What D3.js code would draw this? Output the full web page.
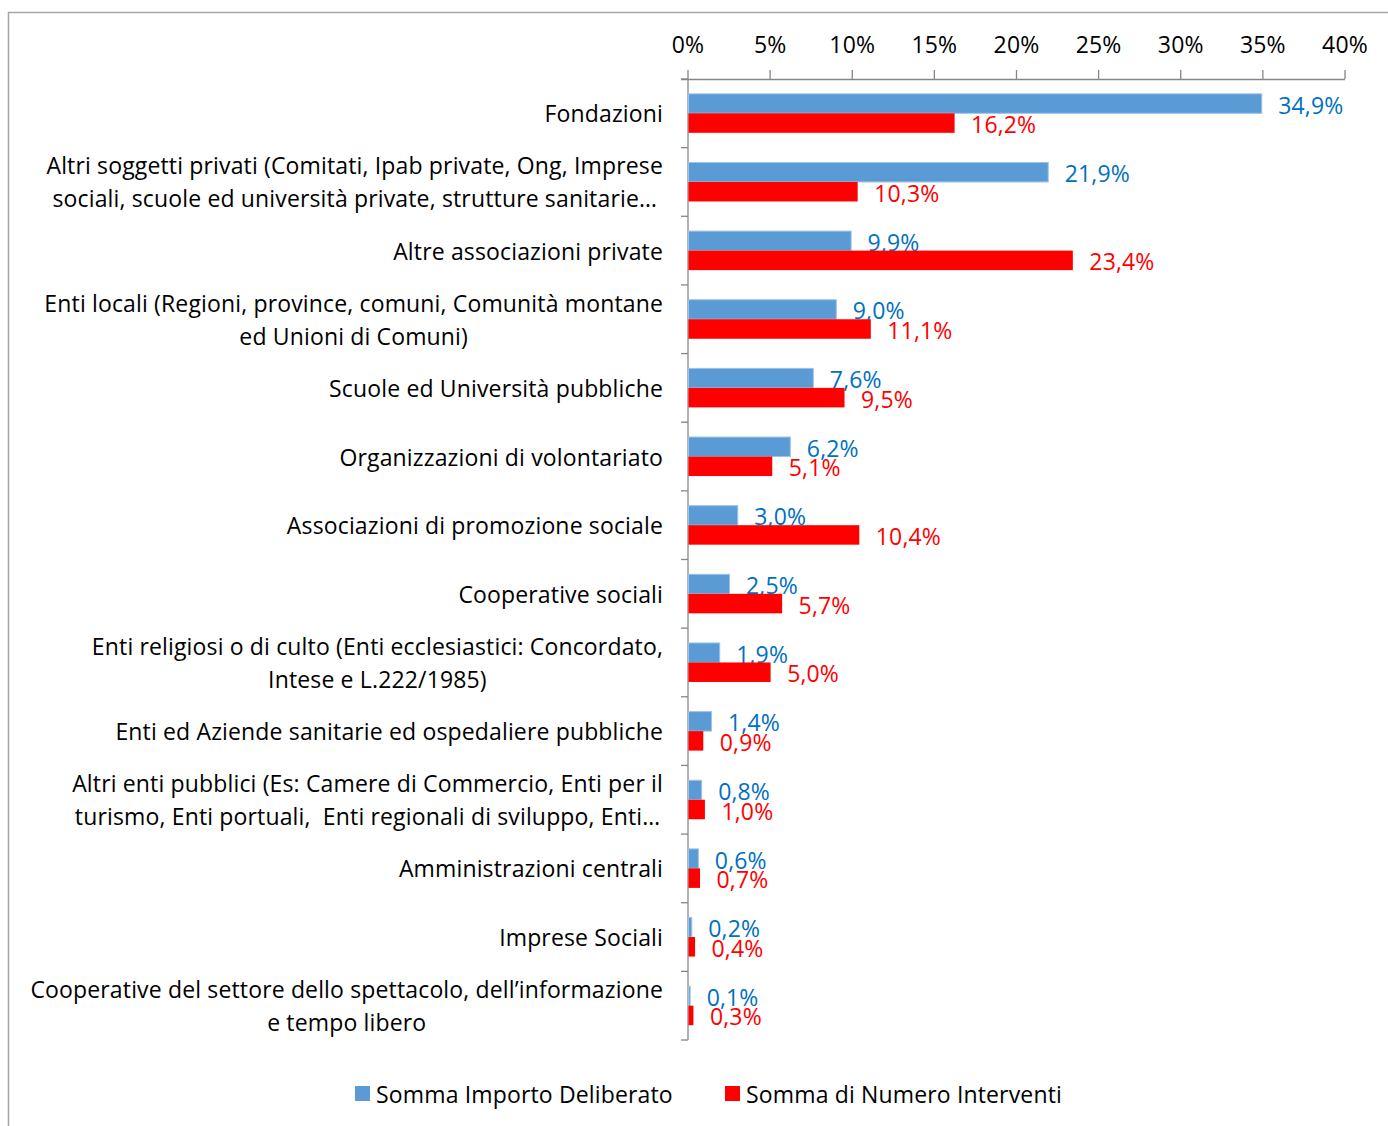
<!DOCTYPE html>
<html>
<head>
<meta charset="utf-8">
<script src="https://cdn.jsdelivr.net/npm/d3@7"></script>
<style>
  html, body { margin: 0; padding: 0; background: #fff; }
  svg { display: block; }
  text { font-family: "Open Sans", Lato, sans-serif; letter-spacing: 0.15px; }
</style>
</head>
<body>
<svg id="chart" width="1388" height="1126"></svg>
<script>
const categories = [
  ["Fondazioni"],
  ["Altri soggetti privati (Comitati, Ipab private, Ong, Imprese", "sociali, scuole ed università private, strutture sanitarie…"],
  ["Altre associazioni private"],
  ["Enti locali (Regioni, province, comuni, Comunità montane", "ed Unioni di Comuni)"],
  ["Scuole ed Università pubbliche"],
  ["Organizzazioni di volontariato"],
  ["Associazioni di promozione sociale"],
  ["Cooperative sociali"],
  ["Enti religiosi o di culto (Enti ecclesiastici: Concordato,", "Intese e L.222/1985)"],
  ["Enti ed Aziende sanitarie ed ospedaliere pubbliche"],
  ["Altri enti pubblici (Es: Camere di Commercio, Enti per il", "turismo, Enti portuali,  Enti regionali di sviluppo, Enti…"],
  ["Amministrazioni centrali"],
  ["Imprese Sociali"],
  ["Cooperative del settore dello spettacolo, dell’informazione", "e tempo libero"]
];
const importoDeliberato = [34.9, 21.9, 9.9, 9.0, 7.6, 6.2, 3.0, 2.5, 1.9, 1.4, 0.8, 0.6, 0.2, 0.1];
const numeroInterventi  = [16.2, 10.3, 23.4, 11.1, 9.5, 5.1, 10.4, 5.7, 5.0, 0.9, 1.0, 0.7, 0.4, 0.3];
const seriesNames = ["Somma Importo Deliberato", "Somma di Numero Interventi"];
const tickValues = [0, 5, 10, 15, 20, 25, 30, 35, 40];

const colors = { fill: ["#5b9bd5", "#ff0000"], label: ["#0070c0", "#ff0000"], stroke: ["#9dc3e6", "none"] };
const axisColor = "#868686";
const fontSize = 23;

const svg = d3.select("#chart");

// outer frame
svg.append("rect")
  .attr("x", 8.5).attr("y", 12.5).attr("width", 1500).attr("height", 1300)
  .attr("fill", "none").attr("stroke", "#a6a6a6").attr("stroke-width", 1.5);

const x = d3.scaleLinear().domain([0, 40]).range([688, 1345]);
const idx = d3.range(categories.length);
const y = d3.scaleBand().domain(idx).range([79, 1040]).paddingInner(0).paddingOuter(0);
const ySub = d3.scaleBand().domain([0, 1]).range([0, y.bandwidth()]).paddingInner(0).paddingOuter(0.76);

// top axis
const axisG = svg.append("g").attr("transform", "translate(0,79)");
axisG.append("line").attr("x1", 681).attr("x2", 1345).attr("y1", 0.5).attr("y2", 0.5)
  .attr("stroke", axisColor).attr("stroke-width", 1.3);
axisG.selectAll("line.tick").data(tickValues).join("line").attr("class", "tick")
  .attr("x1", d => x(d)).attr("x2", d => x(d)).attr("y1", 0).attr("y2", -9)
  .attr("stroke", axisColor).attr("stroke-width", 1.3);
axisG.selectAll("text.tick").data(tickValues).join("text").attr("class", "tick")
  .attr("x", d => x(d)).attr("y", -35)
  .attr("text-anchor", "middle").attr("dominant-baseline", "central")
  .attr("font-size", fontSize).attr("fill", "#000")
  .text(d => d + "%");

// left axis
svg.append("line").attr("x1", 688).attr("x2", 688).attr("y1", 79).attr("y2", 1040)
  .attr("stroke", axisColor).attr("stroke-width", 1.3);
const bounds = idx.map(i => y(i)).concat([y(idx.length - 1) + y.bandwidth()]);
svg.selectAll("line.ytick").data(bounds).join("line").attr("class", "ytick")
  .attr("x1", 681).attr("x2", 688).attr("y1", d => d).attr("y2", d => d)
  .attr("stroke", axisColor).attr("stroke-width", 1.3);

// bars
const seriesData = [importoDeliberato, numeroInterventi];
seriesData.forEach((vals, s) => {
  svg.append("g").selectAll("rect").data(vals).join("rect")
    .attr("x", x(0) + 0.5)
    .attr("y", (d, i) => y(i) + ySub(s))
    .attr("width", d => x(d) - x(0))
    .attr("height", ySub.bandwidth())
    .attr("fill", colors.fill[s])
    .attr("stroke", colors.stroke[s]).attr("stroke-width", 1);
  svg.append("g").selectAll("text").data(vals).join("text")
    .attr("x", d => x(d) + 17)
    .attr("y", (d, i) => y(i) + ySub(s) + ySub.bandwidth() / 2 + 1)
    .attr("dominant-baseline", "central")
    .attr("font-size", fontSize).attr("fill", colors.label[s])
    .text(d => d.toFixed(1).replace(".", ",") + "%");
});

// category labels
const labelRight = 663;
const lineGap = 33;
categories.forEach((lines, i) => {
  const cy = y(i) + y.bandwidth() / 2;
  const g = svg.append("g");
  const texts = lines.map((ln, k) => g.append("text")
    .attr("y", cy + (k - (lines.length - 1) / 2) * lineGap)
    .attr("dominant-baseline", "central")
    .attr("font-size", fontSize).attr("fill", "#000")
    .attr("xml:space", "preserve")
    .text(ln));
  const widths = texts.map(t => t.node().getComputedTextLength());
  const maxW = d3.max(widths);
  const cx = labelRight - maxW / 2;
  texts.forEach(t => t.attr("x", cx).attr("text-anchor", "middle"));
});

// legend
const legendItems = [{ x: 355, s: 0 }, { x: 725, s: 1 }];
const lg = svg.append("g");
legendItems.forEach(it => {
  lg.append("rect").attr("x", it.x).attr("y", 1086).attr("width", 15).attr("height", 15)
    .attr("fill", colors.fill[it.s]);
  lg.append("text").attr("x", it.x + 21).attr("y", 1094)
    .attr("dominant-baseline", "central")
    .attr("font-size", fontSize).attr("fill", "#000")
    .text(seriesNames[it.s]);
});
</script>
</body>
</html>
